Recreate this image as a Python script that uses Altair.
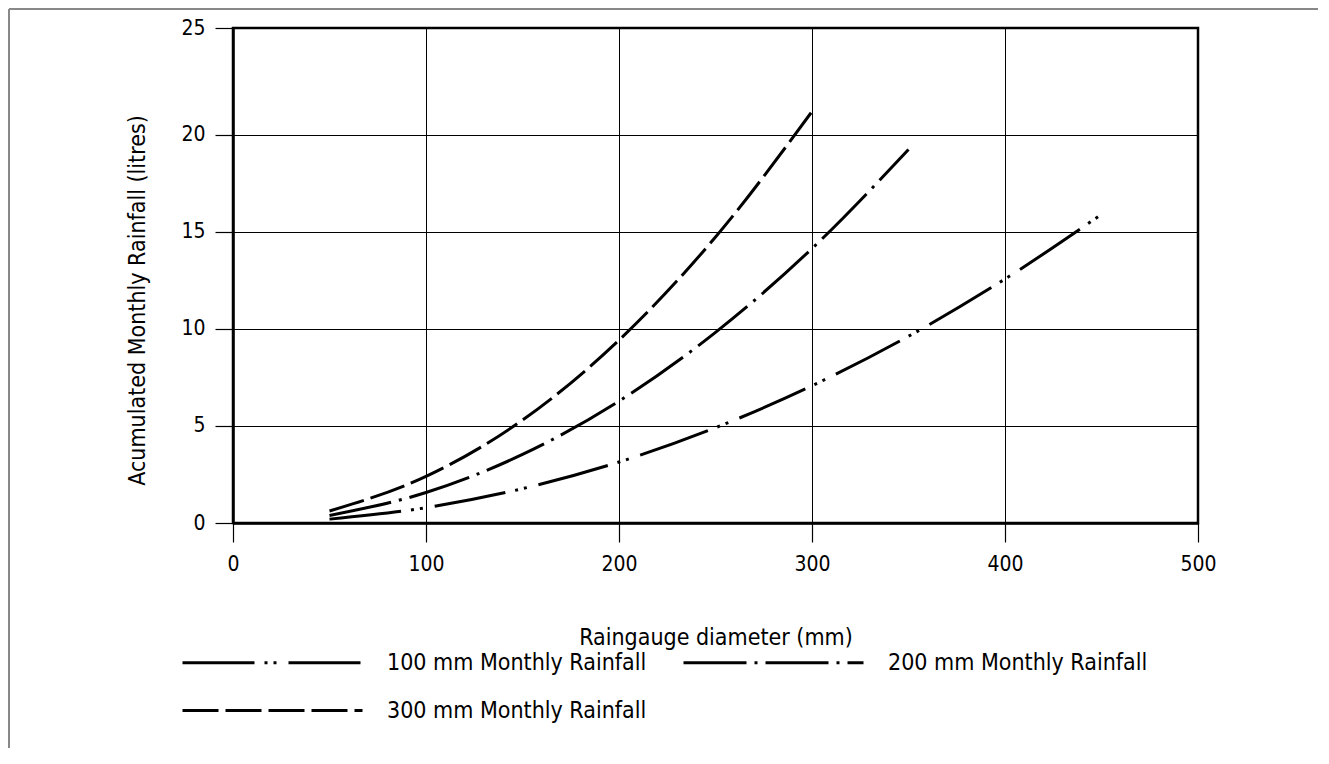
import altair as alt
import pandas as pd

# ---- data ----
diam_100 = [50, 100, 150, 200, 250, 300, 350, 400, 450]
vol_100 = [0.20, 0.79, 1.77, 3.14, 4.91, 7.07, 9.62, 12.57, 15.90]

diam_200 = [50, 100, 150, 200, 250, 300, 350]
vol_200 = [0.39, 1.57, 3.53, 6.28, 9.82, 14.14, 19.24]

diam_300 = [50, 100, 150, 200, 250, 300]
vol_300 = [0.62, 2.40, 5.30, 9.42, 14.73, 21.20]

series_names = ["100 mm Monthly Rainfall", "200 mm Monthly Rainfall", "300 mm Monthly Rainfall"]
dash_patterns = [[72, 10, 3, 6, 3, 12], [63, 8, 3, 8], [36, 7]]
x_ticks = [0, 100, 200, 300, 400, 500]
y_ticks = [0, 5, 10, 15, 20, 25.5]

rows = []
for name, xs, ys in zip(series_names, [diam_100, diam_200, diam_300], [vol_100, vol_200, vol_300]):
    for i, (x, y) in enumerate(zip(xs, ys)):
        rows.append({"series": name, "d": x, "v": y, "o": i})
df = pd.DataFrame(rows)

W, H = 965, 495
FONT = "DejaVu Sans Condensed, DejaVu Sans"
FS = 23

x_enc = alt.X("d:Q", title="Raingauge diameter (mm)",
              scale=alt.Scale(domain=[0, 500], nice=False),
              axis=alt.Axis(values=x_ticks, format="d"))
y_enc = alt.Y("v:Q", title="Acumulated Monthly Rainfall (litres)",
              scale=alt.Scale(domain=[0, 25.5], nice=False),
              axis=alt.Axis(values=y_ticks, format="d",
                            labelExpr="datum.value > 25 ? '25' : datum.label"))

legend_common = dict(title=None, orient="none", direction="horizontal",
                     columnPadding=30,
                     symbolType="stroke", symbolSize=32400,
                     symbolStrokeWidth=3, symbolStrokeColor="black",
                     labelFontSize=FS, labelFont=FONT, labelOffset=23,
                     labelLimit=600, labelColor="black")

base = alt.Chart(df).mark_line(color="black", strokeWidth=3, strokeCap="butt",
                               interpolate="monotone")

lines_a = base.transform_filter(
    alt.FieldOneOfPredicate(field="series", oneOf=series_names[:2])
).encode(
    x=x_enc, y=y_enc,
    strokeDash=alt.StrokeDash("series:N",
        scale=alt.Scale(domain=series_names[:2], range=dash_patterns[:2]),
        legend=alt.Legend(legendX=-52, legendY=543, columns=2, **legend_common)),
    order="o:Q",
)

lines_b = base.transform_filter(
    alt.FieldEqualPredicate(field="series", equal=series_names[2])
).encode(
    x=x_enc, y=y_enc,
    strokeDash=alt.StrokeDash("series:N",
        scale=alt.Scale(domain=series_names[2:], range=dash_patterns[2:]),
        legend=alt.Legend(legendX=-52, legendY=591, columns=1, **legend_common)),
    order="o:Q",
)

frame_src = alt.Chart(pd.DataFrame({"a": [0]}))
frame_left = frame_src.mark_rule(color="#888888", strokeWidth=2).encode(
    x=alt.value(-224), y=alt.value(-19), y2=alt.value(H + 240))
frame_top = frame_src.mark_rule(color="#888888", strokeWidth=2).encode(
    x=alt.value(-224), x2=alt.value(W + 140), y=alt.value(-19))

chart = alt.layer(lines_a, lines_b, frame_left, frame_top).resolve_scale(
    strokeDash="independent"
).properties(
    width=W, height=H,
    autosize=alt.AutoSizeParams(type="none"),
    padding={"left": 225, "top": 20, "right": 120, "bottom": 225},
    background="white",
).configure_view(
    stroke="black", strokeWidth=2.5
).configure_axis(
    grid=True, gridColor="black", gridWidth=1, gridOpacity=1,
    domainColor="black", domainWidth=2.5,
    tickColor="black", tickWidth=1.2, tickSize=19,
    labelFont=FONT, labelFontSize=21, labelColor="black", labelFlush=False,
    titleFont=FONT, titleFontSize=FS, titleColor="black", titleFontWeight="normal",
).configure_axisX(
    labelPadding=11, titlePadding=52,
).configure_axisY(
    labelPadding=10, titlePadding=31, tickSize=18, titleY=272,
)

chart.save("out.html", embed_options={"renderer": "svg", "actions": False})
